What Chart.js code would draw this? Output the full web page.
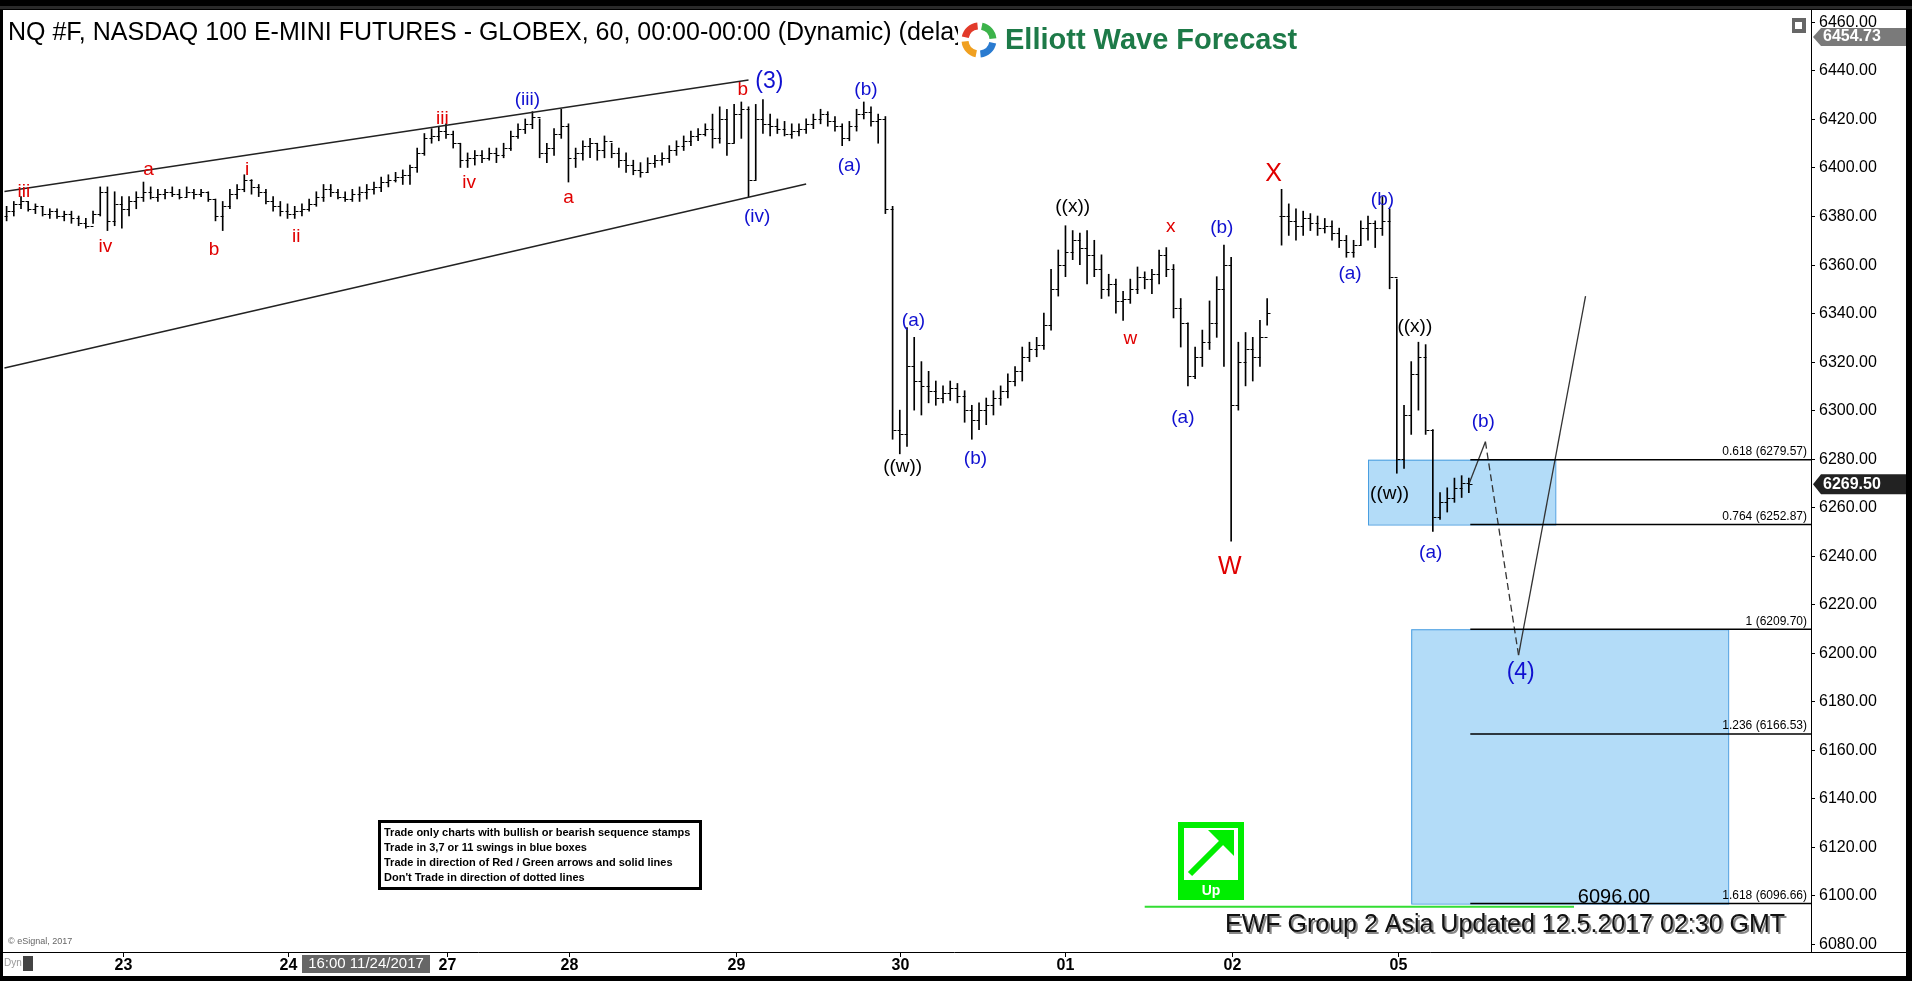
<!DOCTYPE html>
<html><head><meta charset="utf-8">
<script src="https://cdn.jsdelivr.net/npm/chart.js@4.4.1/dist/chart.umd.min.js"></script>
<style>html,body{margin:0;padding:0;background:#000;overflow:hidden}canvas{display:block}</style>
</head><body>
<canvas id="c" width="1912" height="981"></canvas>
<script>
// hourly bars (index = bar number), null = no trading
const lows = [6377,6378,6380,6383,6382,6381,6380,6379,6379,6378,6377,6376,6375,6377,6380,6374,6376,6375,6380,6383,
6386,6387,6386,6387,6388,6387,6388,6387,6388,6386,6378,6374,6383,6387,6390,6389,6388,6385,6382,6380,
6379,6379,6380,6382,6384,6386,6388,6387,6386,6386,6386,6387,6389,6390,6392,6394,6393,6393,6398,6405,
6410,6411,6412,6408,6400,6400,6401,6402,6403,6402,6404,6407,6412,6414,6416,6404,6402,6405,6412,6394,
6400,6403,6404,6403,6404,6404,6400,6398,6397,6396,6398,6400,6401,6402,6405,6407,6409,6411,6413,6408,
6410,6405,6410,6412,6388,6395,6414,6413,6414,6413,6412,6413,6414,6416,6418,6417,6415,6409,6411,6415,
6420,6417,6410,6381,6288,6282,6285,6300,6298,6303,6302,6303,6304,6303,6295,6288,6292,6294,6298,6302,
6305,6310,6312,6320,6322,6325,6333,6347,6355,6362,6360,6352,6355,6346,6347,6340,6337,6344,6348,6350,
6348,6352,6355,6338,6326,6310,6313,6318,6325,6330,6318,6246,6300,6310,6312,6318,6335,null,6368,6372,
6370,6372,6374,6372,6373,6370,6367,6363,6363,6368,6370,6367,6372,6350,6274,6276,6290,6300,6290,6250,
6255,6258,6262,6264,6266];
const highs = [6383,6384,6386,6388,6386,6385,6384,6383,6383,6382,6382,6380,6379,6382,6392,6392,6390,6388,6388,6390,
6394,6392,6391,6391,6392,6391,6392,6391,6391,6390,6387,6386,6391,6393,6397,6395,6393,6391,6388,6386,
6385,6384,6385,6387,6390,6393,6393,6391,6390,6391,6392,6393,6394,6396,6397,6398,6399,6401,6408,6414,
6416,6417,6418,6415,6410,6406,6407,6407,6408,6408,6410,6415,6418,6420,6423,6420,6410,6416,6424,6418,
6408,6411,6412,6410,6413,6410,6408,6406,6403,6402,6404,6405,6406,6409,6411,6413,6415,6416,6418,6422,
6425,6424,6426,6427,6425,6426,6428,6422,6420,6419,6418,6418,6420,6422,6424,6423,6421,6418,6419,6424,
6427,6425,6422,6421,6384,6300,6334,6330,6320,6316,6312,6310,6312,6311,6308,6302,6303,6305,6308,6310,
6315,6318,6326,6328,6330,6340,6358,6366,6376,6374,6373,6374,6370,6364,6356,6354,6349,6354,6359,6357,
6358,6366,6367,6360,6346,6336,6326,6333,6345,6355,6368,6363,6328,6332,6330,6337,6346,null,6391,6385,
6383,6382,6381,6380,6379,6378,6375,6372,6370,6378,6380,6378,6388,6383,6354,6302,6320,6328,6327,6292,
6266,6268,6272,6273,6272];
const closes = [6380,6382,6385,6386,6383,6384,6381,6382,6380,6381,6379,6377,6376,6381,6390,6378,6385,6383,6386,6388,
6390,6388,6389,6390,6389,6388,6390,6389,6390,6387,6380,6384,6389,6391,6395,6392,6390,6386,6384,6382,
6381,6382,6383,6385,6388,6391,6390,6388,6387,6389,6390,6391,6392,6394,6395,6396,6397,6400,6406,6412,
6413,6415,6414,6410,6403,6404,6405,6404,6406,6405,6408,6413,6416,6418,6421,6406,6408,6414,6417,6404,
6406,6409,6410,6407,6411,6406,6403,6401,6399,6398,6402,6403,6404,6407,6409,6411,6413,6414,6416,6412,
6420,6410,6422,6424,6395,6420,6418,6417,6416,6414,6415,6416,6418,6420,6422,6419,6417,6412,6417,6422,
6423,6419,6420,6383,6292,6290,6318,6312,6310,6308,6305,6307,6309,6306,6300,6296,6300,6302,6305,6308,
6312,6316,6322,6325,6327,6335,6350,6360,6365,6370,6367,6364,6358,6350,6352,6345,6346,6350,6355,6354,
6356,6364,6358,6342,6336,6314,6322,6328,6336,6350,6360,6302,6320,6325,6322,6330,6340,null,6380,6378,
6376,6379,6377,6375,6376,6373,6370,6365,6368,6375,6377,6375,6378,6355,6280,6298,6315,6322,6292,6256,
6262,6264,6268,6270,6269.5];
const dayTicks = [17.1,40.1,62.2,79.1,102.2,125,148,171.1,194.2];
const dayLabels = ['23','24','27','28','29','30','01','02','05'];
const priceTicks = [6080,6100,6120,6140,6160,6180,6200,6220,6240,6260,6280,6300,6320,6340,6360,6380,6400,6420,6440,6460];
const upperChannel = [{x:0.7,y:6390.1},{x:104,y:6436.1}];
const lowerChannel = [{x:0.7,y:6317.4},{x:112,y:6393.2}];
const projSolid1 = [{x:204,y:6269.5},{x:206.3,y:6287}];
const projDashed = [{x:206.3,y:6287},{x:210.9,y:6199}];
const projSolid2 = [{x:210.9,y:6199},{x:220.2,y:6347}];
const fibLevels = [6279.57,6252.87,6209.70,6166.53,6096.66];
const fibNames = ['0.618 (6279.57)','0.764 (6252.87)','1 (6209.70)','1.236 (6166.53)','1.618 (6096.66)'];
const boxes = [[190,216,6279.57,6252.87],[196,240,6209.70,6096.66]];
const waveLabels = [
['iii',3.4,6390,'#e00000',19],['iv',14.7,6367.5,'#e00000',19],['a',20.7,6399,'#e00000',19],['b',29.8,6366,'#e00000',19],
['i',34.4,6399,'#e00000',19],['ii',41.2,6371.6,'#e00000',19],['iii',61.5,6420,'#e00000',19],['iv',65.2,6393.7,'#e00000',19],
['(iii)',73.3,6428,'#1010d0',19],['a',79,6387.6,'#e00000',19],['b',103.2,6432,'#e00000',19],['(3)',106.9,6435.4,'#1010d0',23],
['(iv)',105.2,6379.6,'#1010d0',19],['(a)',118,6400.7,'#1010d0',19],['(b)',120.3,6432,'#1010d0',19],['(a)',126.9,6337,'#1010d0',19],
['((w))',125.4,6276.6,'#000',19],['(b)',135.5,6280,'#1010d0',19],['((x))',149,6384,'#000',19],['w',157,6329.4,'#e00000',19],
['x',162.6,6375.6,'#e00000',19],['(a)',164.3,6296.7,'#1010d0',19],['(b)',169.7,6375,'#1010d0',19],['W',170.8,6235.4,'#e00000',25],
['X',176.9,6397.2,'#e00000',25],['(a)',187.5,6356,'#1010d0',19],['(b)',192,6386.6,'#1010d0',19],['((x))',196.5,6334.4,'#000',19],
['((w))',193,6265.5,'#000',19],['(a)',198.7,6241.4,'#1010d0',19],['(b)',206,6295.2,'#1010d0',19],['(4)',211.2,6191.7,'#1010d0',23]];
const rules = ['Trade only charts with bullish or bearish sequence stamps','Trade in 3,7 or 11 swings in blue boxes','Trade in direction of Red / Green arrows and solid lines',"Don't Trade in direction of dotted lines"];

const barData = lows.map((l,i)=> l==null?null:{x:i,y:[l,highs[i]]}).filter(d=>d);
const NARROW = '"Liberation Sans Narrow","Liberation Sans",Arial,sans-serif';
const SANS = '"Liberation Sans",Arial,sans-serif';

const bgPlugin = {id:'bg', beforeDraw(ch){const c=ch.ctx;c.save();c.fillStyle='#000';c.fillRect(0,0,1912,981);
 c.fillStyle='#2a2a2a';c.fillRect(0,6,1912,3);c.fillStyle='#fff';c.fillRect(3,10,1903,966);
 const x=ch.scales.x,y=ch.scales.y;
 boxes.forEach(b=>{const x0=x.getPixelForValue(b[0]),x1=x.getPixelForValue(b[1]),y0=y.getPixelForValue(b[2]),y1=y.getPixelForValue(b[3]);
  c.fillStyle='#b3dcf8';c.fillRect(x0,y0,x1-x0,y1-y0);c.strokeStyle='#4a9ee0';c.lineWidth=1;c.strokeRect(x0+.5,y0+.5,x1-x0,y1-y0);});
 c.restore();}};

const fgPlugin = {id:'fg', afterDatasetsDraw(ch){const c=ch.ctx,x=ch.scales.x,y=ch.scales.y,ca=ch.chartArea;c.save();
 c.strokeStyle='#000';c.lineWidth=1;
 closes.forEach((cl,i)=>{if(cl==null)return;const px=Math.round(x.getPixelForValue(i))+.5;if(px<4)return;const op=closes[i-1]!=null?closes[i-1]:cl;
  const yo=Math.round(y.getPixelForValue(op))+.5,yc=Math.round(y.getPixelForValue(cl))+.5;
  c.beginPath();c.moveTo(px-3,yo);c.lineTo(px,yo);c.moveTo(px,yc);c.lineTo(px+3,yc);c.stroke();});
 const fx0=x.getPixelForValue(204.2),fx1=ca.right;
 c.lineWidth=1.6;c.strokeStyle='#000';
 fibLevels.forEach((v,i)=>{const py=y.getPixelForValue(v);c.beginPath();c.moveTo(fx0,py);c.lineTo(fx1,py);c.stroke();
  c.fillStyle='#000';c.font='12px '+NARROW;c.textAlign='right';c.textBaseline='bottom';c.fillText(fibNames[i],fx1-4,py-2);});
 c.strokeStyle='#33dd33';c.lineWidth=2;const gy=y.getPixelForValue(6095.3);c.beginPath();c.moveTo(x.getPixelForValue(159),gy);c.lineTo(x.getPixelForValue(218.6),gy);c.stroke();
 c.textAlign='center';c.textBaseline='middle';
 waveLabels.forEach(l=>{c.fillStyle=l[3];c.font=l[4]+'px '+NARROW;c.fillText(l[0],x.getPixelForValue(l[1]),y.getPixelForValue(l[2]));});
 c.strokeStyle='#000';c.lineWidth=1;c.beginPath();c.moveTo(ca.right+.5,10);c.lineTo(ca.right+.5,ca.bottom);c.moveTo(3,ca.bottom+.5);c.lineTo(1906,ca.bottom+.5);c.stroke();
 c.font='16px '+NARROW;c.textAlign='left';c.textBaseline='middle';c.fillStyle='#000';
 priceTicks.forEach(v=>{const py=Math.round(y.getPixelForValue(v))+.5;c.beginPath();c.moveTo(ca.right,py);c.lineTo(ca.right+4,py);c.stroke();c.fillText(v.toFixed(2),ca.right+8,py);});
 c.textAlign='center';c.textBaseline='top';c.font='bold 16px '+NARROW;
 dayTicks.forEach((v,i)=>{const px=Math.round(x.getPixelForValue(v))+.5;c.beginPath();c.moveTo(px,ca.bottom);c.lineTo(px,ca.bottom+5);c.stroke();c.fillText(dayLabels[i],px,ca.bottom+6);});
 c.fillStyle='#666';c.fillRect(302,955,128,18);c.fillStyle='#fff';c.font='15px '+NARROW;c.fillText('16:00 11/24/2017',366,956);
 c.fillStyle='#999';c.font='10px '+NARROW;c.textAlign='left';c.fillText('Dyn',4,958);c.fillStyle='#444';c.fillRect(23,956,10,15);
 c.fillStyle='#7a7a7a';c.beginPath();c.moveTo(ca.right+2,37);c.lineTo(ca.right+10,28);c.lineTo(1906,28);c.lineTo(1906,46);c.lineTo(ca.right+10,46);c.closePath();c.fill();
 c.fillStyle='#fff';c.font='bold 16px '+NARROW;c.textBaseline='middle';c.fillText('6454.73',ca.right+12,37);
 const cy=y.getPixelForValue(6269.5);c.fillStyle='#222';c.beginPath();c.moveTo(ca.right+2,cy);c.lineTo(ca.right+10,cy-10);c.lineTo(1906,cy-10);c.lineTo(1906,cy+10);c.lineTo(ca.right+10,cy+10);c.closePath();c.fill();
 c.fillStyle='#fff';c.fillText('6269.50',ca.right+12,cy);
 c.fillStyle='#666';c.fillRect(1792,18,14,15);c.fillStyle='#fff';c.fillRect(1795,22,7,7);
 c.fillStyle='#000';c.font='25px '+SANS;c.textAlign='left';c.textBaseline='middle';
 c.fillText('NQ #F, NASDAQ 100 E-MINI FUTURES - GLOBEX, 60, 00:00-00:00 (Dynamic) (delayed)',8,33);
 c.fillStyle='#fff';c.fillRect(958,16,340,48);
 const lx=979,ly=40;const cols=['#2a7bd0','#f0a020','#e23a2a','#3cb34a'];
 cols.forEach((col,i)=>{c.strokeStyle=col;c.lineWidth=7;c.beginPath();c.arc(lx,ly,14,i*Math.PI/2+0.2,(i+1)*Math.PI/2-0.1);c.stroke();});
 c.fillStyle='#1d7a48';c.font='bold 29px '+NARROW;c.textBaseline='middle';c.fillText('Elliott Wave Forecast',1005,41);
 c.fillStyle='#fff';c.fillRect(378,820,324,70);c.strokeStyle='#000';c.lineWidth=3;c.strokeRect(379.5,821.5,321,67);
 c.fillStyle='#000';c.font='bold 11px '+NARROW;c.textBaseline='middle';
 rules.forEach((t,i)=>c.fillText(t,384,833+i*15));
 c.fillStyle='#00ee00';c.fillRect(1178,822,66,78);c.fillStyle='#fff';c.fillRect(1184,828,54,52);
 c.strokeStyle='#00ee00';c.lineWidth=6;c.beginPath();c.moveTo(1190,874);c.lineTo(1228,836);c.stroke();
 c.fillStyle='#00ee00';c.beginPath();c.moveTo(1234,830);c.lineTo(1234,856);c.lineTo(1208,830);c.closePath();c.fill();
 c.fillStyle='#fff';c.font='bold 14px '+SANS;c.textAlign='center';c.fillText('Up',1211,891);
 c.fillStyle='#000';c.font='20px '+NARROW;c.fillText('6096.00',1614,897);
 c.textAlign='left';c.font='25px '+NARROW;c.fillStyle='#888';c.fillText('EWF Group 2 Asia Updated 12.5.2017 02:30 GMT',1227,927);
 c.fillStyle='#111';c.fillText('EWF Group 2 Asia Updated 12.5.2017 02:30 GMT',1225,925);
 c.fillStyle='#666';c.font='9px '+NARROW;c.fillText('© eSignal, 2017',8,942);
 c.restore();}};

new Chart(document.getElementById('c'),{
 type:'bar',
 data:{datasets:[
  {type:'bar',data:barData,backgroundColor:'#000',barThickness:1,grouped:false,order:5},
  {type:'line',data:upperChannel,borderColor:'#222',borderWidth:1.5,pointRadius:0},
  {type:'line',data:lowerChannel,borderColor:'#222',borderWidth:1.5,pointRadius:0},
  {type:'line',data:projSolid1,borderColor:'#333',borderWidth:1.3,pointRadius:0},
  {type:'line',data:projDashed,borderColor:'#333',borderWidth:1.3,borderDash:[7,4],pointRadius:0},
  {type:'line',data:projSolid2,borderColor:'#333',borderWidth:1.3,pointRadius:0}
 ]},
 options:{responsive:false,animation:false,devicePixelRatio:1,
  layout:{padding:{left:3,top:10,right:101,bottom:29}},
  plugins:{legend:{display:false},tooltip:{enabled:false}},
  scales:{x:{type:'linear',min:0.5,max:251.5,display:false,offset:false},
          y:{min:6076.7,max:6464.9,display:false}}},
 plugins:[bgPlugin,fgPlugin]
});
</script></body></html>
